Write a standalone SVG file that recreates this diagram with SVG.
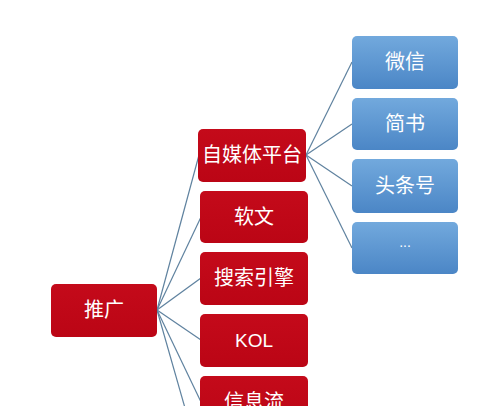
<svg xmlns="http://www.w3.org/2000/svg" width="500" height="406" viewBox="0 0 500 406">
<defs>
<linearGradient id="blueG" x1="0" y1="0" x2="0" y2="1">
<stop offset="0" stop-color="#72a9dd"/>
<stop offset="1" stop-color="#4b86c6"/>
</linearGradient>
<linearGradient id="redG" x1="0" y1="0" x2="0" y2="1">
<stop offset="0" stop-color="#c40a1a"/>
<stop offset="1" stop-color="#bb0515"/>
</linearGradient>
<style>
.red{fill:url(#redG);}
.blue{fill:url(#blueG);}
.t{font-family:"Liberation Sans","Noto Sans CJK SC",sans-serif;font-size:20px;fill:#ffffff;text-anchor:middle;}
.c line{stroke:#5f829f;stroke-width:1.2;fill:none;}
</style>
</defs>
<rect width="500" height="406" fill="#ffffff"/>
<g id="connectors" class="c">
<line x1="157" y1="310" x2="199" y2="155"/>
<line x1="157" y1="310" x2="201" y2="217"/>
<line x1="157" y1="310" x2="201" y2="278"/>
<line x1="157" y1="310" x2="201" y2="340"/>
<line x1="157" y1="310" x2="201" y2="402"/>
<line x1="157" y1="310" x2="201" y2="464"/>
<line x1="306" y1="155" x2="352" y2="62"/>
<line x1="306" y1="155" x2="352" y2="124"/>
<line x1="306" y1="155" x2="352" y2="186"/>
<line x1="306" y1="155" x2="352" y2="248"/>
</g>
<g id="n-root"><rect class="red" x="51" y="284" width="106" height="53" rx="5"/><text class="t" x="104" y="317">推广</text></g>
<g id="n-zimeiti"><rect class="red" x="198" y="129" width="108" height="53" rx="5"/><text class="t" x="252" y="162">自媒体平台</text></g>
<g id="n-ruanwen"><rect class="red" x="200" y="191" width="108" height="52" rx="5"/><text class="t" x="254" y="224">软文</text></g>
<g id="n-sousuo"><rect class="red" x="200" y="252" width="108" height="53" rx="5"/><text class="t" x="254" y="285">搜索引擎</text></g>
<g id="n-kol"><rect class="red" x="200" y="314" width="108" height="53" rx="5"/><text class="t" x="254" y="347" style="font-size:19px">KOL</text></g>
<g id="n-xinxiliu"><rect class="red" x="200" y="376" width="108" height="53" rx="5"/><text class="t" x="254" y="409">信息流</text></g>
<g id="n-weixin"><rect class="blue" x="352" y="36" width="106" height="53" rx="5"/><text class="t" x="405" y="69">微信</text></g>
<g id="n-jianshu"><rect class="blue" x="352" y="98" width="106" height="52" rx="5"/><text class="t" x="405" y="131">简书</text></g>
<g id="n-toutiao"><rect class="blue" x="352" y="159" width="106" height="54" rx="5"/><text class="t" x="405" y="193">头条号</text></g>
<g id="n-more"><rect class="blue" x="352" y="222" width="106" height="52" rx="5"/><text class="t" x="405" y="247" style="font-size:14px">...</text></g>
</svg>
